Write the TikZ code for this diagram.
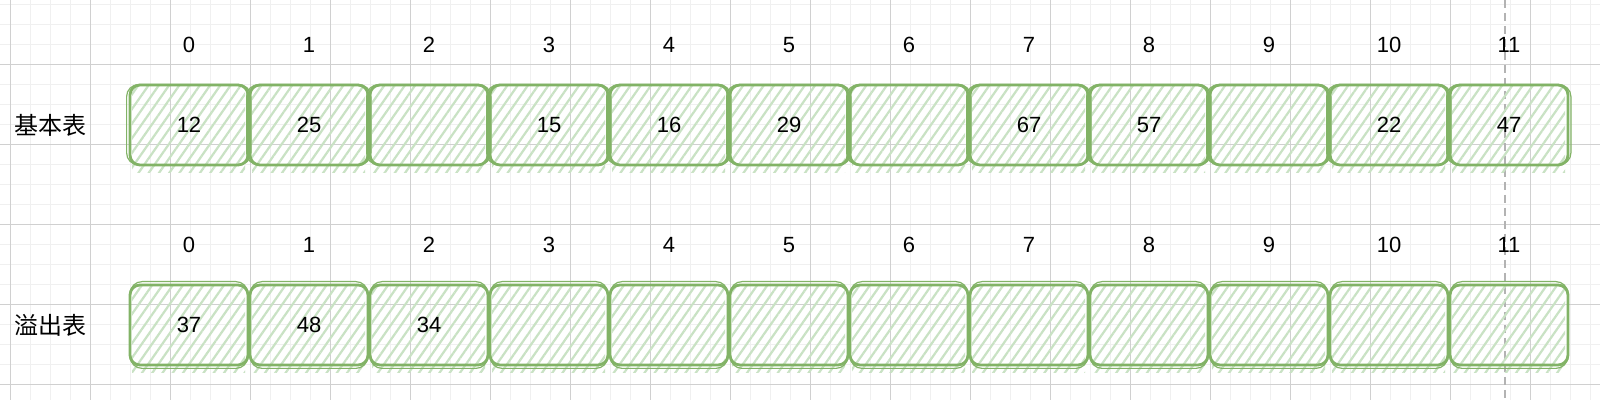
\documentclass[tikz,border=0pt]{standalone}
\usepackage{fontspec}
\setmainfont{Liberation Sans}
\newfontfamily\cjk{Noto Sans CJK SC}
\usetikzlibrary{patterns.meta}
\definecolor{gstroke}{HTML}{82B366}
\definecolor{ghatch}{HTML}{C9E2C4}
\definecolor{gridmaj}{HTML}{D0D0D0}
\definecolor{gridmin}{HTML}{F0F0F0}
\definecolor{dashgrey}{HTML}{B3B3B3}
\begin{document}
\begin{tikzpicture}[x=0.5pt,y=0.5pt,
  cell/.style={shape=rectangle, rounded corners=5pt, minimum width=59pt, minimum height=40pt,
    inner sep=0pt, draw=gstroke, line width=1.4pt,
    font=\fontsize{11}{13}\selectfont},
  hatch/.style={pattern={Lines[angle=55,distance=4.2pt,line width=1.1pt]}, pattern color=ghatch},
  sketch/.style={draw=gstroke, line width=0.6pt, rounded corners=6pt},
  idx/.style={font=\fontsize{11}{13}\selectfont, inner sep=0pt},
  rowlab/.style={font=\cjk\fontsize{12}{14}\selectfont, inner sep=0pt},
  gmin/.style={draw=gridmin, line width=0.5pt},
  gmaj/.style={draw=gridmaj, line width=0.5pt},
  guide/.style={draw=dashgrey, line width=1pt, dash pattern=on 4pt off 2.5pt}]
\useasboundingbox (0,0) rectangle (1600,400);
\fill[white] (0,0) rectangle (1600,400);
% grid
\foreach \x in {10,30,...,1590} \path[gmin] (\x,0) -- (\x,400);
\foreach \y in {5,25,...,395} \path[gmin] (0,400-\y) -- (1600,400-\y);
\foreach \x in {10,90,...,1570} \path[gmaj] (\x,0) -- (\x,400);
\foreach \y in {65,145,...,385} \path[gmaj] (0,400-\y) -- (1600,400-\y);
% guide line
\coordinate (gtop) at (1505,400);
\coordinate (gbot) at (1505,0);
\path[guide] (gtop) -- (gbot);
% row labels
\node[rowlab] (rowA) at (50,275) {基本表};
\node[rowlab] (rowB) at (50,75) {溢出表};
% top row
\foreach \v [count=\i from 0] in {12,25,{},15,16,29,{},67,57,{},22,47}{
  \path[hatch] ({189+120*\i-57},275-48) rectangle ({189+120*\i+56},275+38);
  \node[idx] (ti\i) at ({189+120*\i},355) {\i};
  \node[cell] (t\i) at ({189+120*\i},275) {\v};
  \path[sketch] ([shift={(-2,1.5)}]t\i.south west) rectangle ([shift={(1.5,-1)}]t\i.north east);
}
% bottom row
\foreach \v [count=\i from 0] in {37,48,34,{},{},{},{},{},{},{},{},{}}{
  \path[hatch] ({189+120*\i-57},75-48) rectangle ({189+120*\i+56},75+38);
  \node[idx] (bi\i) at ({189+120*\i},155) {\i};
  \node[cell] (b\i) at ({189+120*\i},75) {\v};
  \path[sketch] ([shift={(1.5,-2)}]b\i.south west) rectangle ([shift={(-1.5,2)}]b\i.north east);
}
\end{tikzpicture}
\end{document}
